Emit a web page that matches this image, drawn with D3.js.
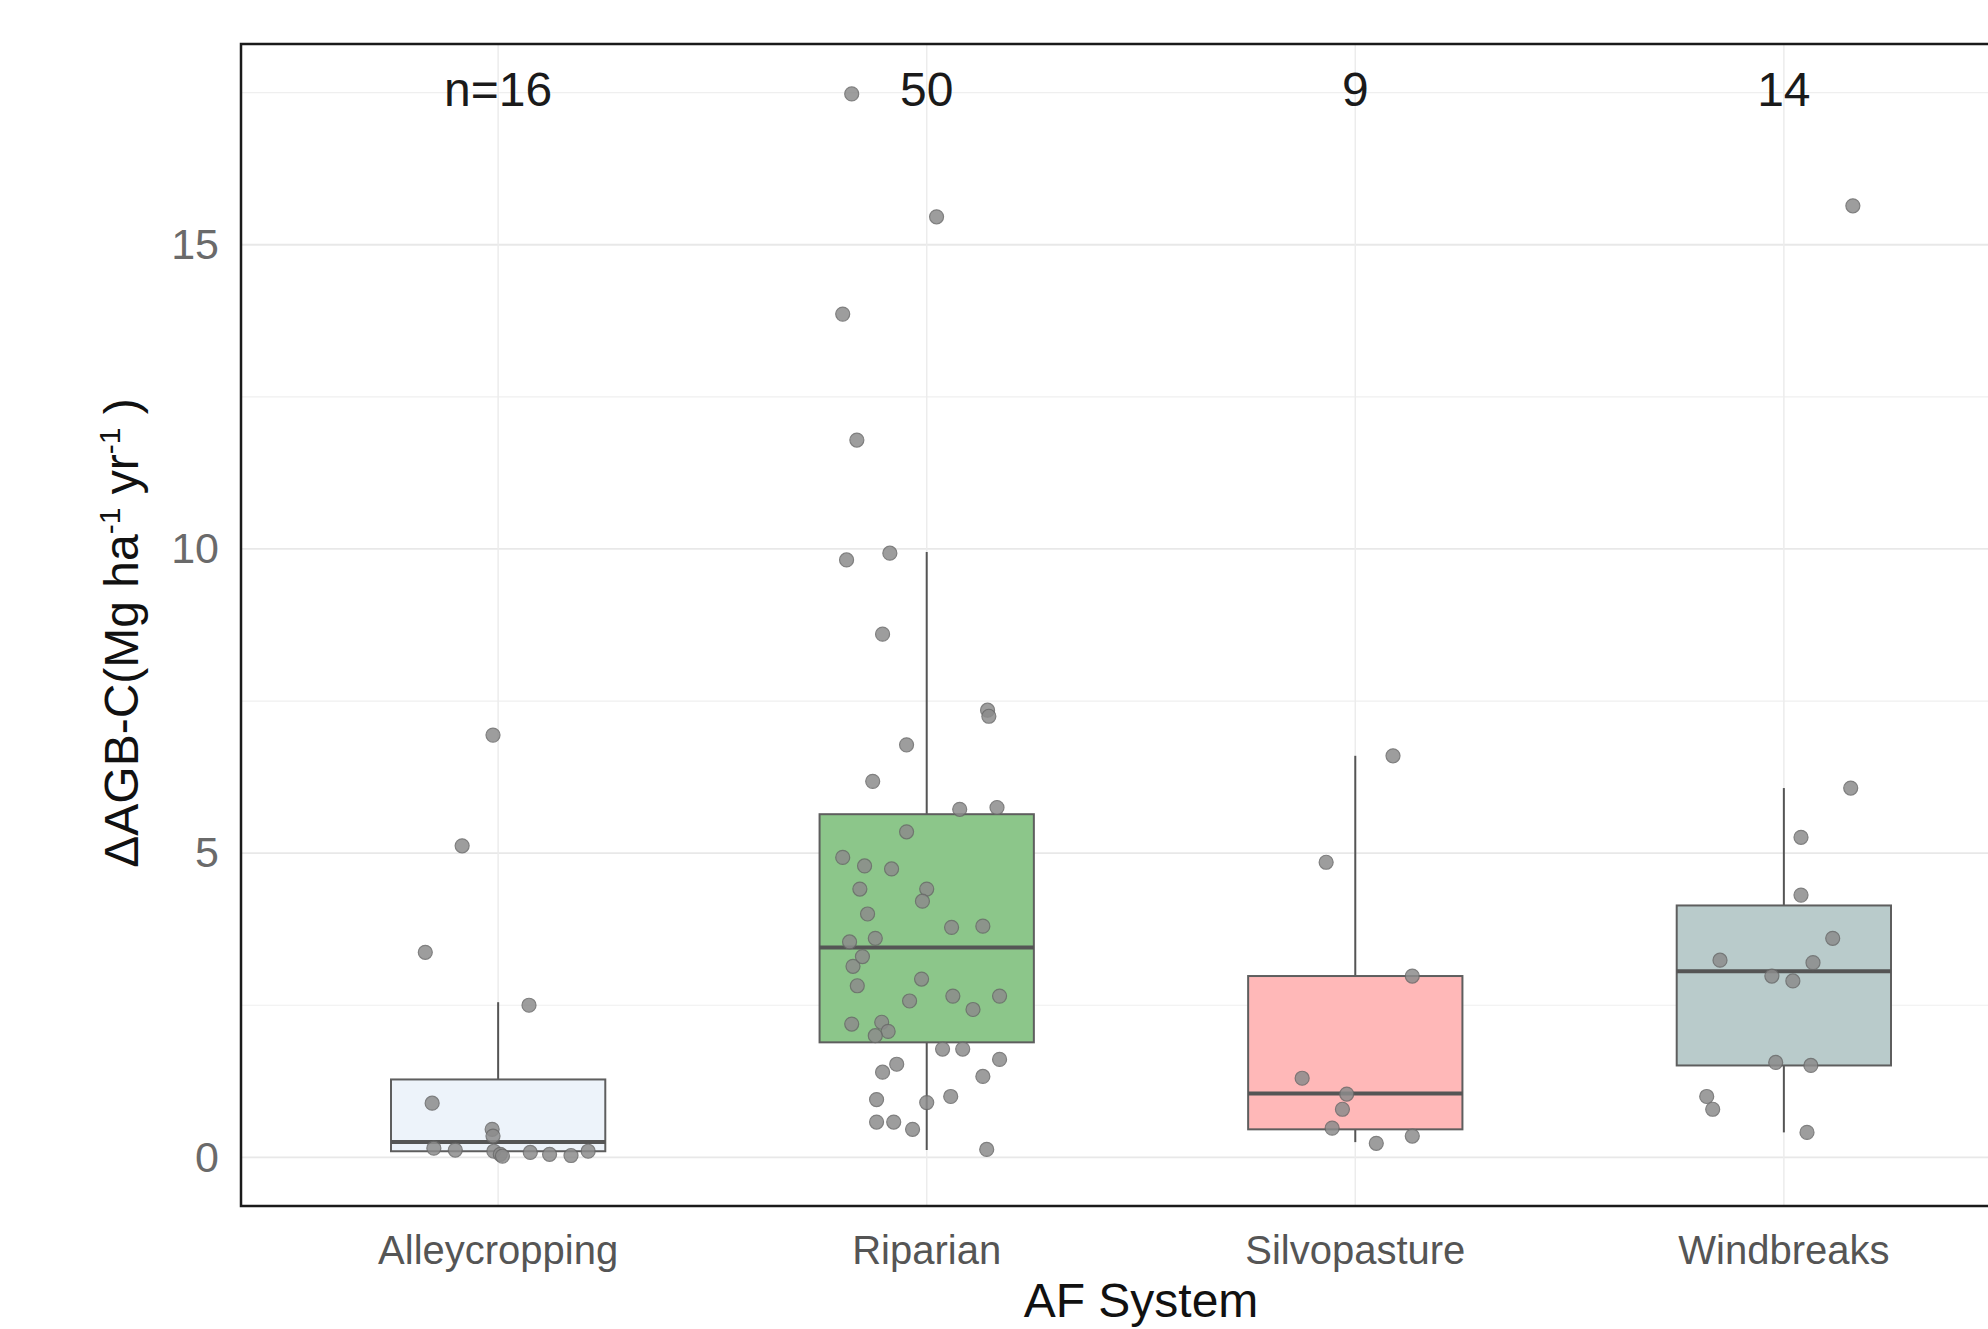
<!DOCTYPE html>
<html>
<head>
<meta charset="utf-8">
<script src="https://cdn.jsdelivr.net/npm/d3@7"></script>
<style>
  html, body { margin: 0; padding: 0; background: #ffffff; overflow: hidden; }
  svg { display: block; font-family: "Liberation Sans", Arial, sans-serif; }
</style>
</head>
<body>
<svg id="chart" width="1988" height="1329"></svg>
<script>
// ---------- data ----------
const categories = ["Alleycropping", "Riparian", "Silvopasture", "Windbreaks"];
const nLabels = ["n=16", "50", "9", "14"];
const boxFills = ["#edf3fa", "#8cc68a", "#ffb8b8", "#b9cbcb"];

const boxQ1 = [0.10, 1.89, 0.46, 1.51];
const boxMedian = [0.25, 3.45, 1.05, 3.06];
const boxQ3 = [1.28, 5.64, 2.98, 4.14];
const whiskerLow = [0.02, 0.12, 0.25, 0.41];
const whiskerHigh = [2.55, 9.95, 6.60, 6.07];

const alleyValues = [6.94, 5.12, 3.37, 2.5, 0.89, 0.46, 0.35, 0.15, 0.12, 0.1, 0.05, 0.02, 0.08, 0.05, 0.03, 0.1];
const alleyJitter = [-0.012, -0.084, -0.17, 0.072, -0.154, -0.014, -0.012, -0.15, -0.1, -0.01, 0.005, 0.01, 0.075, 0.12, 0.17, 0.21];

const riparianValues = [17.48, 15.46, 13.86, 11.79, 9.82, 9.93, 8.6, 7.35, 7.25, 6.78, 6.18, 5.72, 5.75, 4.93, 4.79, 4.74, 5.35, 4.41, 4.41, 4.0, 4.21, 3.78, 3.8, 3.54, 3.14, 2.93, 2.82, 2.65, 2.43, 2.65, 2.57, 2.19, 2.22, 2.07, 1.78, 1.78, 1.61, 1.53, 1.4, 1.33, 0.95, 0.9, 1.0, 0.58, 0.58, 0.46, 0.13, 3.3, 2.0, 3.6];
const riparianJitter = [-0.175, 0.023, -0.196, -0.163, -0.187, -0.086, -0.103, 0.142, 0.145, -0.047, -0.126, 0.077, 0.164, -0.196, -0.145, -0.082, -0.047, -0.156, 0.0, -0.138, -0.01, 0.058, 0.131, -0.18, -0.172, -0.012, -0.162, 0.061, 0.108, 0.17, -0.04, -0.175, -0.105, -0.09, 0.037, 0.084, 0.17, -0.07, -0.103, 0.131, -0.117, 0.0, 0.056, -0.117, -0.077, -0.033, 0.14, -0.15, -0.12, -0.12];

const silvoValues = [6.6, 4.85, 2.98, 1.3, 1.04, 0.79, 0.48, 0.23, 0.35];
const silvoJitter = [0.088, -0.068, 0.133, -0.124, -0.02, -0.03, -0.054, 0.049, 0.133];

const windValues = [15.64, 6.07, 5.26, 4.31, 3.6, 3.24, 3.2, 2.98, 2.9, 1.56, 1.51, 1.0, 0.79, 0.41];
const windJitter = [0.161, 0.156, 0.04, 0.04, 0.114, -0.149, 0.068, -0.028, 0.021, -0.019, 0.063, -0.18, -0.166, 0.054];

const yMajorTicks = [0, 5, 10, 15];
const yMinorTicks = [2.5, 7.5, 12.5, 17.5];
const nLabelY = 17.55;

const pointSets = [
  [alleyValues, alleyJitter],
  [riparianValues, riparianJitter],
  [silvoValues, silvoJitter],
  [windValues, windJitter]
];

// ---------- layout ----------
const svg = d3.select("#chart");
const panel = { left: 241, top: 44, right: 2041, bottom: 1206 };

const x = d3.scaleBand()
  .domain(categories)
  .range([panel.left, panel.right])
  .paddingInner(0)
  .paddingOuter(0.1);
const step = x.step();
const cx = c => x(c) + x.bandwidth() / 2;

const y = d3.scaleLinear()
  .domain([-0.8, 18.3])
  .range([panel.bottom, panel.top]);

// grid
const grid = svg.append("g");
grid.selectAll("line.minor").data(yMinorTicks).enter().append("line")
  .attr("x1", panel.left).attr("x2", panel.right)
  .attr("y1", d => y(d)).attr("y2", d => y(d))
  .attr("stroke", "#efefef").attr("stroke-width", 1.2);
grid.selectAll("line.major").data(yMajorTicks).enter().append("line")
  .attr("x1", panel.left).attr("x2", panel.right)
  .attr("y1", d => y(d)).attr("y2", d => y(d))
  .attr("stroke", "#e8e8e8").attr("stroke-width", 1.8);
grid.selectAll("line.vert").data(categories).enter().append("line")
  .attr("x1", d => cx(d)).attr("x2", d => cx(d))
  .attr("y1", panel.top).attr("y2", panel.bottom)
  .attr("stroke", "#ececec").attr("stroke-width", 1.5);

// boxes
const boxW = step * 0.5;
const boxes = svg.append("g");
categories.forEach((c, i) => {
  const g = boxes.append("g");
  const xc = cx(c);
  g.append("line")
    .attr("x1", xc).attr("x2", xc)
    .attr("y1", y(boxQ3[i])).attr("y2", y(whiskerHigh[i]))
    .attr("stroke", "#555").attr("stroke-width", 2);
  g.append("line")
    .attr("x1", xc).attr("x2", xc)
    .attr("y1", y(boxQ1[i])).attr("y2", y(whiskerLow[i]))
    .attr("stroke", "#555").attr("stroke-width", 2);
  g.append("rect")
    .attr("x", xc - boxW / 2).attr("width", boxW)
    .attr("y", y(boxQ3[i])).attr("height", y(boxQ1[i]) - y(boxQ3[i]))
    .attr("fill", boxFills[i]).attr("stroke", "#5e5e5e").attr("stroke-width", 2);
  g.append("line")
    .attr("x1", xc - boxW / 2).attr("x2", xc + boxW / 2)
    .attr("y1", y(boxMedian[i])).attr("y2", y(boxMedian[i]))
    .attr("stroke", "#555").attr("stroke-width", 4);
});

// points
const pts = svg.append("g");
pointSets.forEach(([vals, jit], i) => {
  const xc = cx(categories[i]);
  pts.selectAll(null).data(vals.map((v, k) => ({ v, j: jit[k] }))).enter()
    .append("circle")
    .attr("cx", d => xc + d.j * step)
    .attr("cy", d => y(d.v))
    .attr("r", 7)
    .attr("fill", "#8c8c8c")
    .attr("stroke", "#6a6a6a")
    .attr("stroke-width", 1.2)
    .attr("opacity", 0.85);
});

// n labels
svg.append("g").selectAll("text").data(categories).enter().append("text")
  .attr("x", d => cx(d))
  .attr("y", y(nLabelY))
  .attr("text-anchor", "middle")
  .attr("dominant-baseline", "central")
  .attr("font-size", 48)
  .attr("fill", "#1a1a1a")
  .text((d, i) => nLabels[i]);

// panel border
svg.append("rect")
  .attr("x", panel.left).attr("y", panel.top)
  .attr("width", panel.right - panel.left).attr("height", panel.bottom - panel.top)
  .attr("fill", "none").attr("stroke", "#1a1a1a").attr("stroke-width", 2.5);

// y axis tick labels
const yAxis = d3.axisLeft(y).tickValues(yMajorTicks).tickSize(0).tickPadding(22);
const yg = svg.append("g").attr("transform", `translate(${panel.left},0)`).call(yAxis);
yg.select(".domain").remove();
yg.selectAll("text").attr("font-size", 43).attr("fill", "#6a6a6a")
  .attr("font-family", "'Liberation Sans', Arial, sans-serif");

// x axis tick labels
const xAxis = d3.axisBottom(x).tickSize(0).tickPadding(30);
const xg = svg.append("g").attr("transform", `translate(0,${panel.bottom})`).call(xAxis);
xg.select(".domain").remove();
xg.selectAll("text").attr("font-size", 40).attr("fill", "#555")
  .attr("font-family", "'Liberation Sans', Arial, sans-serif");

// x axis title
svg.append("text")
  .attr("x", (panel.left + panel.right) / 2)
  .attr("y", 1317)
  .attr("text-anchor", "middle")
  .attr("font-size", 48)
  .attr("fill", "#111")
  .text("AF System");

// y axis title
const yt = svg.append("text")
  .attr("transform", `translate(138,${(panel.top + panel.bottom) / 2 + 8}) rotate(-90)`)
  .attr("text-anchor", "middle")
  .attr("font-size", 48)
  .attr("fill", "#111");
yt.append("tspan").text("ΔAGB-C(Mg ha");
yt.append("tspan").attr("dy", -18).attr("font-size", 30).text("-1");
yt.append("tspan").attr("dy", 18).text(" yr");
yt.append("tspan").attr("dy", -18).attr("font-size", 30).text("-1");
yt.append("tspan").attr("dy", 18).text(" )");
</script>
</body>
</html>
